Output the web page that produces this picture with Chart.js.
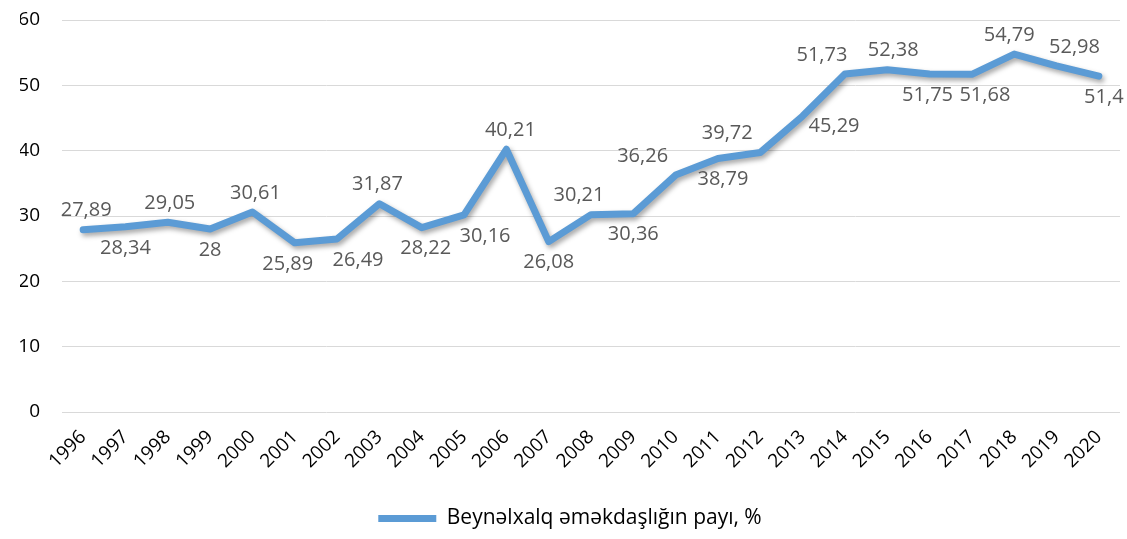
<!DOCTYPE html>
<html lang="az">
<head>
  <meta charset="UTF-8">
  <title>Beynəlxalq əməkdaşlığın payı</title>
  <script src="https://cdn.jsdelivr.net/npm/chart.js"></script>
  <style>
    html, body { margin: 0; padding: 0; background: #fff; overflow: hidden; }
    .wrap { width: 1127px; height: 539px; }
  </style>
</head>
<body>
  <div class="wrap"><canvas id="chart" width="1127" height="539"></canvas></div>

  <script>
    // illər
    const years = ['1996','1997','1998','1999','2000','2001','2002','2003','2004','2005',
                   '2006','2007','2008','2009','2010','2011','2012','2013','2014','2015',
                   '2016','2017','2018','2019','2020'];

    // payı, %
    const shares = [27.89, 28.34, 29.05, 28, 30.61, 25.89, 26.49, 31.87, 28.22, 30.16,
                    40.21, 26.08, 30.21, 30.36, 36.26, 38.79, 39.72, 45.29, 51.73, 52.38,
                    51.75, 51.68, 54.79, 52.98, 51.4];

    const yTicks = [0, 10, 20, 30, 40, 50, 60];
    const seriesName = 'Beynəlxalq əməkdaşlığın payı, %';

    // yazıların yeri (yuxarı / aşağı / sağ) və yana sürüşmə
    const labelSide = ['up','down','up','down','up','down','down','up','down','down',
                       'up','down','up','down','up','down','up','right','up','up',
                       'down','down','up','up','down'];
    const labelShift = [3, 0, 2, 0, 3, -7, 21, -2, 4, 21,
                        4, 0, -12, 0, -33, 5, -33, 0, -23, 6,
                        -2, 13, -5, 18, 5];

    const blue = '#5b9bd5';
    const font = "'Open Sans', sans-serif";

    // xəttin kölgəsi
    const shadowPlugin = {
      id: 'shadow',
      beforeDatasetsDraw(chart) {
        const c = chart.ctx;
        c.save();
        c.shadowColor = 'rgba(0,0,0,0.35)';
        c.shadowBlur = 5;
        c.shadowOffsetX = 2;
        c.shadowOffsetY = 3;
      },
      afterDatasetsDraw(chart) {
        chart.ctx.restore();
      }
    };

    // dəyər yazıları
    const valueLabels = {
      id: 'valueLabels',
      afterDraw(chart) {
        const c = chart.ctx;
        const meta = chart.getDatasetMeta(0);
        c.save();
        c.font = "20px " + font;
        c.fillStyle = '#595959';
        c.textBaseline = 'middle';
        meta.data.forEach((pt, i) => {
          const txt = String(shares[i]).replace('.', ',');
          let x = pt.x + labelShift[i], y = pt.y;
          c.textAlign = 'center';
          if (labelSide[i] === 'up') y -= 19;
          else if (labelSide[i] === 'down') y += 21;
          else { c.textAlign = 'left'; x += 6; y += 10; }
          c.fillText(txt, x, y);
        });
        c.restore();
      }
    };

    new Chart(document.getElementById('chart'), {
      type: 'line',
      data: {
        labels: years,
        datasets: [{
          label: seriesName,
          data: shares,
          borderColor: blue,
          backgroundColor: blue,
          borderWidth: 7,
          borderCapStyle: 'round',
          borderJoinStyle: 'round',
          pointRadius: 0,
          tension: 0,
          fill: false
        }]
      },
      options: {
        responsive: false,
        animation: false,
        layout: { padding: { left: 20, right: 7, top: 20, bottom: 0 } },
        plugins: {
          tooltip: { enabled: false },
          legend: {
            position: 'bottom',
            labels: {
              color: '#000',
              font: { family: font, size: 21 },
              padding: 8,
              generateLabels: (chart) => [{
                text: seriesName,
                fillStyle: blue,
                strokeStyle: blue,
                lineWidth: 0,
                datasetIndex: 0
              }],
              boxWidth: 58,
              boxHeight: 7
            }
          }
        },
        scales: {
          x: {
            offset: true,
            grid: { display: false },
            border: { display: false },
            ticks: {
              color: '#000',
              font: { family: font, size: 19 },
              minRotation: 45,
              maxRotation: 45,
              padding: 6,
              autoSkip: false
            },
            afterFit: s => { s.height = 88; }
          },
          y: {
            min: 0,
            max: 60,
            afterBuildTicks: s => { s.ticks = yTicks.map(v => ({ value: v })); },
            grid: { color: '#d9d9d9', lineWidth: 1, drawTicks: true, tickLength: 20, tickColor: 'rgba(0,0,0,0)' },
            border: { display: false },
            ticks: {
              color: '#000',
              font: { family: font, size: 19 },
              padding: 2
            },
            afterFit: s => { s.width = 42; }
          }
        }
      },
      plugins: [shadowPlugin, valueLabels]
    });
  </script>
</body>
</html>
